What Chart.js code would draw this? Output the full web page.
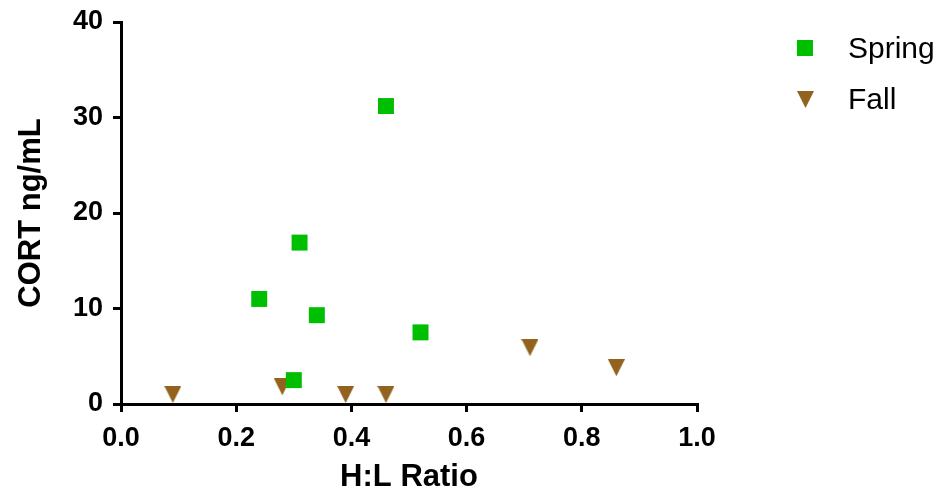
<!DOCTYPE html>
<html>
<head>
<meta charset="utf-8">
<script src="https://cdn.jsdelivr.net/npm/chart.js@4/dist/chart.umd.min.js"></script>
<style>
  html, body { margin: 0; padding: 0; background: white; }
  #wrap { width: 941px; height: 500px; }
</style>
</head>
<body>
<div id="wrap"><canvas id="scatter" width="941" height="500"></canvas></div>
<script>
// H:L ratio vs CORT, spring and fall

var springHL = [0.46, 0.31, 0.24, 0.34, 0.52, 0.30];
var springCort = [31.2, 16.9, 11.0, 9.3, 7.5, 2.5];

var fallHL = [0.09, 0.28, 0.39, 0.46, 0.71, 0.86];
var fallCort = [1.0, 1.8, 1.0, 1.0, 5.9, 3.8];

var xTicks = [0.0, 0.2, 0.4, 0.6, 0.8, 1.0];
var yTicks = [0, 10, 20, 30, 40];

var groen = '#00bf00';
var bruin = '#93621f';
var lettertype = '"Liberation Sans", Arial, sans-serif';

function punten(xs, ys) {
    var out = [];
    for (var i = 0; i < xs.length; i++) {
        out.push({ x: xs[i], y: ys[i] });
    }
    return out;
}

// omgekeerde driehoek als marker
function driehoek(w, h, kleur) {
    var c = document.createElement('canvas');
    c.width = w;
    c.height = h;
    var g = c.getContext('2d');
    g.fillStyle = kleur;
    g.beginPath();
    g.moveTo(0, 0);
    g.lineTo(w, 0);
    g.lineTo(w / 2, h);
    g.closePath();
    g.fill();
    return c;
}

var fallMarker = driehoek(17, 17, bruin);

// legenda rechts naast de grafiek
var legenda = {
    id: 'legenda',
    afterDraw: function (chart) {
        var ctx = chart.ctx;
        ctx.save();
        ctx.fillStyle = groen;
        ctx.fillRect(797, 40, 16, 16);
        ctx.drawImage(fallMarker, 797, 91);
        ctx.fillStyle = 'black';
        ctx.font = '30px ' + lettertype;
        ctx.textBaseline = 'middle';
        ctx.textAlign = 'left';
        ctx.fillText('Spring', 848, 50);
        ctx.fillText('Fall', 848, 101);
        ctx.restore();
    }
};

var ctx = document.getElementById('scatter').getContext('2d');
var scatter = new Chart(ctx, {

    type: 'scatter',

    data: {
        datasets: [{
            label: 'Spring',
            data: punten(springHL, springCort),
            pointStyle: 'rect',
            pointRadius: 11.3,
            pointHoverRadius: 11.3,
            backgroundColor: groen,
            borderWidth: 0,
            clip: false
        }, {
            label: 'Fall',
            data: punten(fallHL, fallCort),
            pointStyle: fallMarker,
            backgroundColor: bruin,
            borderWidth: 0,
            clip: false
        }]
    },

    options: {
        responsive: false,
        animation: false,
        events: [],
        layout: {
            padding: { left: 0, top: 22, right: 244, bottom: 0 }
        },
        plugins: {
            legend: { display: false },
            tooltip: { enabled: false }
        },
        scales: {
            x: {
                type: 'linear',
                min: 0,
                max: 1,
                afterFit: function (s) {
                    s.height = 96;
                    s.paddingLeft = 0;
                    s.paddingRight = 0;
                },
                afterBuildTicks: function (s) {
                    s.ticks = xTicks.map(function (v) { return { value: v }; });
                },
                border: { color: 'black', width: 3 },
                grid: { drawOnChartArea: false, color: 'black', lineWidth: 3, tickLength: 8 },
                ticks: {
                    color: 'black',
                    padding: 10,
                    maxRotation: 0,
                    font: { family: lettertype, size: 27, weight: 'bold' },
                    callback: function (v) { return Number(v).toFixed(1); }
                },
                title: {
                    display: true,
                    text: 'H:L Ratio',
                    color: 'black',
                    padding: { top: 0, bottom: 4 },
                    font: { family: lettertype, size: 31, weight: 'bold' }
                }
            },
            y: {
                type: 'linear',
                min: 0,
                max: 40,
                afterFit: function (s) {
                    s.width = 121;
                    s.paddingTop = 0;
                    s.paddingBottom = 0;
                },
                afterBuildTicks: function (s) {
                    s.ticks = yTicks.map(function (v) { return { value: v }; });
                },
                border: { color: 'black', width: 3 },
                grid: { drawOnChartArea: false, color: 'black', lineWidth: 3, tickLength: 8 },
                ticks: {
                    color: 'black',
                    padding: 10,
                    font: { family: lettertype, size: 27, weight: 'bold' }
                },
                title: {
                    display: true,
                    text: 'CORT ng/mL',
                    color: 'black',
                    padding: { top: 13, bottom: 0 },
                    font: { family: lettertype, size: 31, weight: 'bold' }
                }
            }
        }
    },

    plugins: [legenda]
});
</script>
</body>
</html>
